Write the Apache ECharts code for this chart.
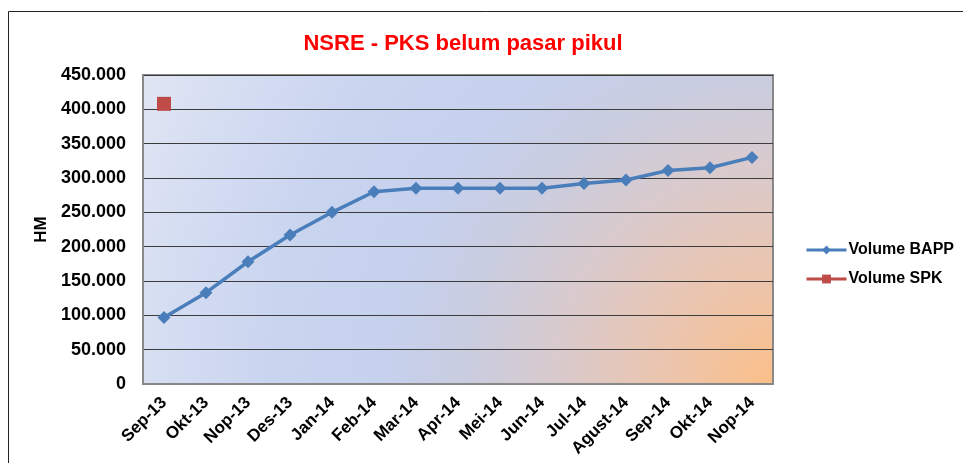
<!DOCTYPE html>
<html>
<head>
<meta charset="utf-8">
<script src="https://cdn.jsdelivr.net/npm/echarts@6/dist/echarts.min.js"></script>
<style>
  html, body { margin: 0; padding: 0; background: #fff; }
</style>
</head>
<body>
<div id="chart" style="width: 963px; height: 463px;"></div>
<script>
// bulan
var months = ['Sep-13', 'Okt-13', 'Nop-13', 'Des-13', 'Jan-14', 'Feb-14', 'Mar-14', 'Apr-14',
  'Mei-14', 'Jun-14', 'Jul-14', 'Agust-14', 'Sep-14', 'Okt-14', 'Nop-14']
var volumeBapp = [97000, 133000, 178000, 217000, 250000, 280000, 285000, 285000,
  285000, 285000, 292000, 297000, 311000, 315000, 330000]
var volumeSpk = [408000, null, null, null, null, null, null, null,
  null, null, null, null, null, null, null]

var myChart = echarts.init(document.getElementById('chart'))

function fmt(v) {
  if (v === 0) return '0'
  return String(v).replace(/\B(?=(\d{3})+(?!\d))/g, '.')
}

var option = {
  backgroundColor: '#fff',
  animation: false,
  title: {
    text: 'NSRE - PKS belum pasar pikul',
    left: 458,
    textAlign: 'center',
    top: 28,
    textStyle: {
      color: '#ff0000',
      fontFamily: 'Liberation Sans',
      fontWeight: 'bold',
      fontSize: 22
    }
  },
  legend: {
    orient: 'vertical',
    left: 800,
    top: 237,
    itemWidth: 40,
    itemHeight: 11,
    itemGap: 13,
    lineStyle: { width: 3 },
    textStyle: {
      fontFamily: 'Liberation Sans',
      fontWeight: 'bold',
      fontSize: 16,
      color: '#000',
      padding: [0, 0, 0, -3]
    },
    data: ['Volume BAPP', 'Volume SPK']
  },
  grid: {
    left: 143,
    top: 75,
    right: 190,
    bottom: 79,
    show: true,
    borderColor: '#888',
    borderWidth: 2,
    backgroundColor: new echarts.graphic.RadialGradient(1, 1, 2.3, [
      { offset: 0, color: '#fbbf88' },
      { offset: 0.15, color: '#ecc5ad' },
      { offset: 0.3, color: '#dacacc' },
      { offset: 0.43, color: '#c9cde0' },
      { offset: 0.55, color: '#c6d1ee' },
      { offset: 0.7, color: '#c9d4ef' },
      { offset: 0.87, color: '#d6def2' },
      { offset: 1, color: '#e2e7f3' }
    ])
  },
  graphic: [
    {
      type: 'rect',
      shape: { x: 8.5, y: 11.5, width: 1000, height: 500 },
      style: { fill: null, stroke: '#222', lineWidth: 1 },
      silent: true
    }
  ],
  xAxis: {
    type: 'category',
    data: months,
    boundaryGap: true,
    axisLine: { show: true, lineStyle: { color: '#888', width: 2 } },
    axisTick: { show: false },
    axisLabel: {
      rotate: 45,
      interval: 0,
      margin: 16,
      color: '#000',
      fontFamily: 'Liberation Sans',
      fontWeight: 'bold',
      fontSize: 17
    }
  },
  yAxis: {
    type: 'value',
    min: 0,
    max: 450000,
    interval: 50000,
    name: 'HM',
    nameLocation: 'middle',
    nameGap: 92,
    nameTextStyle: {
      color: '#000',
      fontFamily: 'Liberation Sans',
      fontWeight: 'bold',
      fontSize: 17
    },
    axisLine: { show: true, lineStyle: { color: '#888', width: 2 } },
    axisTick: { show: false },
    splitLine: { show: true, lineStyle: { color: '#3c3c3c', width: 1 } },
    axisLabel: {
      margin: 17,
      color: '#000',
      fontFamily: 'Liberation Sans',
      fontWeight: 'bold',
      fontSize: 18,
      formatter: fmt
    }
  },
  series: [
    {
      name: 'Volume BAPP',
      type: 'line',
      data: volumeBapp,
      symbol: 'diamond',
      symbolSize: 13,
      lineStyle: { width: 3.5, color: '#4a7ebb' },
      itemStyle: { color: '#4a7ebb' }
    },
    {
      name: 'Volume SPK',
      type: 'line',
      data: volumeSpk,
      symbol: 'rect',
      symbolSize: 14,
      lineStyle: { width: 3.5, color: '#be4b48' },
      itemStyle: { color: '#be4b48' }
    }
  ]
}

option && myChart.setOption(option)
</script>
</body>
</html>
